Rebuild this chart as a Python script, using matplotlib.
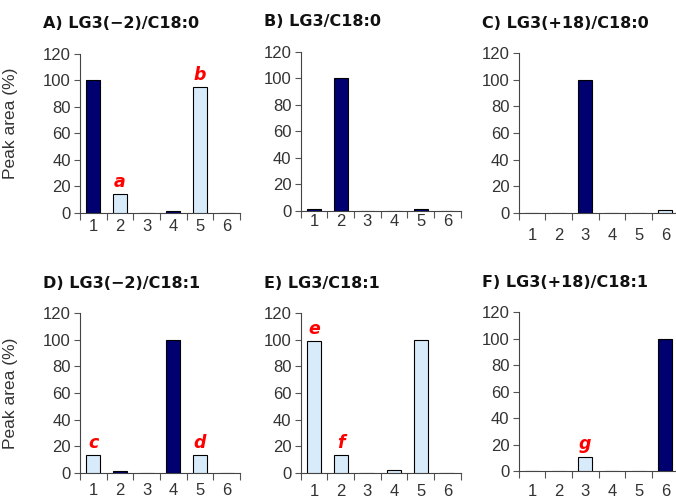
import matplotlib
matplotlib.use("Agg")
from matplotlib import pyplot as plt
from matplotlib.ticker import FixedLocator, NullFormatter

plt.rcParams["font.family"] = ["Liberation Sans", "DejaVu Sans"]

# 数据
positions = [1, 2, 3, 4, 5, 6]
titles = ["A) LG3(\u22122)/C18:0", "B) LG3/C18:0", "C) LG3(+18)/C18:0",
          "D) LG3(\u22122)/C18:1", "E) LG3/C18:1", "F) LG3(+18)/C18:1"]
values = [
    [100, 14, 0, 1, 95, 0],
    [1, 100, 0, 0, 1, 0],
    [0, 0, 100, 0, 0, 2],
    [13, 1, 0, 100, 13, 0],
    [99, 13, 0, 2, 100, 0],
    [0, 0, 11, 0, 0, 100],
]
# d = dark bar, l = light bar
kinds = [
    "dlddld",
    "dddddd",
    "ddddll",
    "ldddld",
    "llllld",
    "ddlddd",
]
letters = [
    {2: "a", 5: "b"},
    {},
    {},
    {1: "c", 5: "d"},
    {1: "e", 2: "f"},
    {3: "g"},
]

DARK = "#000070"
LIGHT = "#d8ebfa"
TXT = "#333333"

W, H = 676, 498
fig = plt.figure(figsize=(W / 100, H / 100), dpi=100)

# axes boxes in pixels: left, y of 120, y of 0
boxes = [(80, 54, 212.7), (300.7, 51.7, 210.7), (518.7, 53.3, 212.7),
         (80, 313.3, 472.7), (300.7, 313.3, 472.7), (518.7, 312, 471.3)]
label_pads = [4.8, 2.2, 10.8, 7.2, 8.1, 9.4]
ylabel_y = [0.565, None, None, 0.5, None, None]

for i in range(6):
    left, top, bottom = boxes[i]
    ax = fig.add_axes([left / W, 1 - bottom / H, 160 / W, (bottom - top) / H])
    cols = [DARK if k == "d" else LIGHT for k in kinds[i]]
    ax.bar(positions, values[i], width=0.52, color=cols, edgecolor="black", linewidth=0.8, zorder=3)
    for pos, let in letters[i].items():
        ax.annotate(let, xy=(pos, values[i][pos - 1]), xytext=(0, 5.2), textcoords="offset points",
                    ha="center", va="baseline", color="#ff0000", fontsize=12.5,
                    fontweight="bold", fontstyle="italic", family="DejaVu Sans")
    ax.set_xlim(0.5, 6.5)
    ax.set_ylim(0, 120)
    ax.set_yticks(range(0, 121, 20))
    ax.xaxis.set_major_locator(FixedLocator([x + 0.5 for x in range(0, 7)]))
    ax.xaxis.set_major_formatter(NullFormatter())
    ax.xaxis.set_minor_locator(FixedLocator(positions))
    ax.set_xticklabels([str(p) for p in positions], minor=True)
    ax.tick_params(axis="x", which="major", direction="out", length=5.3, width=0.8, color="#555555")
    ax.tick_params(axis="x", which="minor", length=0, pad=label_pads[i], labelsize=12, labelcolor=TXT)
    ax.tick_params(axis="y", direction="out", length=4.5, width=0.8, color="#555555",
                   pad=2.2, labelsize=12, labelcolor=TXT)
    for s in ["top", "right"]:
        ax.spines[s].set_visible(False)
    for s in ["left", "bottom"]:
        ax.spines[s].set_color("#444444")
        ax.spines[s].set_linewidth(0.8)
    ax.annotate(titles[i], xy=(0, 1), xycoords="axes fraction", xytext=(-26.6, 21.6),
                textcoords="offset points", ha="left", va="center",
                fontsize=11.5, fontweight="bold", color="#111111", family="DejaVu Sans")
    if ylabel_y[i] is not None:
        ax.set_ylabel("Peak area (%)", fontsize=12.5, color=TXT)
        ax.yaxis.set_label_coords(-62 / 160, ylabel_y[i])

fig.savefig("out.png", dpi=100)
